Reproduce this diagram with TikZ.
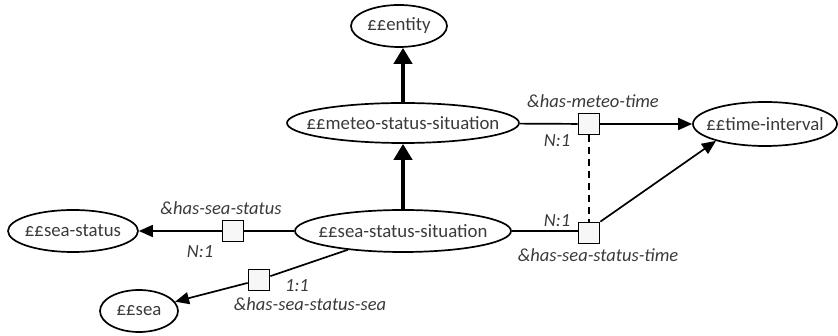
\documentclass[tikz,border=0pt]{standalone}
\usepackage{fontspec}
\setmainfont{Carlito}
\usetikzlibrary{arrows.meta, shapes.geometric}
\definecolor{txtgray}{HTML}{3A3A3A}
\newcommand{\ovtext}[1]{\makebox[0pt]{#1}}

\begin{document}
\begin{tikzpicture}[x=1pt, y=-1pt, font=\fontsize{18.8}{22}\selectfont]
                \useasboundingbox (0,0) rectangle (838,336);

                \begin{scope}[every node/.style = {draw, ellipse, line width=1.7pt, inner sep=0pt, text=txtgray}]
                  \node[minimum width=96, minimum height=42] (ent) at (399,26) {\ovtext{££entity}};
                  \node[minimum width=232, minimum height=40] (meteo) at (403,123) {\ovtext{££meteo-status-situation}};
                  \node[minimum width=144, minimum height=44] (ti) at (765,124) {\ovtext{££time-interval}};
                  \node[minimum width=130, minimum height=42] (ss) at (73,231) {\ovtext{££sea-status}};
                  \node[minimum width=216, minimum height=42] (sss) at (403,231) {\ovtext{££sea-status-situation}};
                  \node[minimum width=78, minimum height=42] (sea) at (139,311) {\ovtext{££sea}};
                \end{scope}

                \begin{scope}[every node/.style = {draw, rectangle, line width=1.7pt, fill=white!97!black, minimum size=21, inner sep=0pt}]
                  \node (hmt) at (589,124) {};
                  \node (hsst) at (589,233) {};
                  \node (hss) at (233,231) {};
                  \node (hsss) at (259,280) {};
                \end{scope}

                \begin{scope}[every node/.style = {font=\fontsize{18.5}{22}\selectfont\itshape, text=txtgray, inner sep=0pt}]
                  \node (lhmt) at (593,101) {\&has-meteo-time};
                  \node (nhmt) at (557,141) {N:1};
                  \node (lhss) at (221,208) {\&has-sea-status};
                  \node (nhss) at (200,252) {N:1};
                  \node (nhsss) at (297,286) {1:1};
                  \node (lhsss) at (310,304) {\&has-sea-status-sea};
                  \node (nhsst) at (557,221) {N:1};
                  \node (lhsst) at (598,255) {\&has-sea-status-time};
                \end{scope}

                \begin{scope}[line width=1.7pt, -{Triangle[length=14pt, width=12pt]}]
                  \draw[-] (meteo) -- (hmt);
                  \draw (hmt) -- (ti);
                  \draw[-] (sss) -- (hss);
                  \draw (hss) -- (ss);
                  \draw[-] (sss) -- (hsss);
                  \draw (hsss) -- (sea);
                  \draw[-] (sss.east) -- (hsst.west |- sss.east);
                  \draw (hsst.north east) -- (ti.199);
                  \draw[-, dashed, dash pattern=on 7pt off 5pt] (hmt) -- (hsst);
                \end{scope}

                \begin{scope}[line width=4pt, -{Triangle[length=16pt, width=18pt]}]
                  \draw (sss) -- (meteo);
                  \draw (meteo.north) -- (meteo.north |- ent.south);
                \end{scope}
              \end{tikzpicture}
\end{document}
